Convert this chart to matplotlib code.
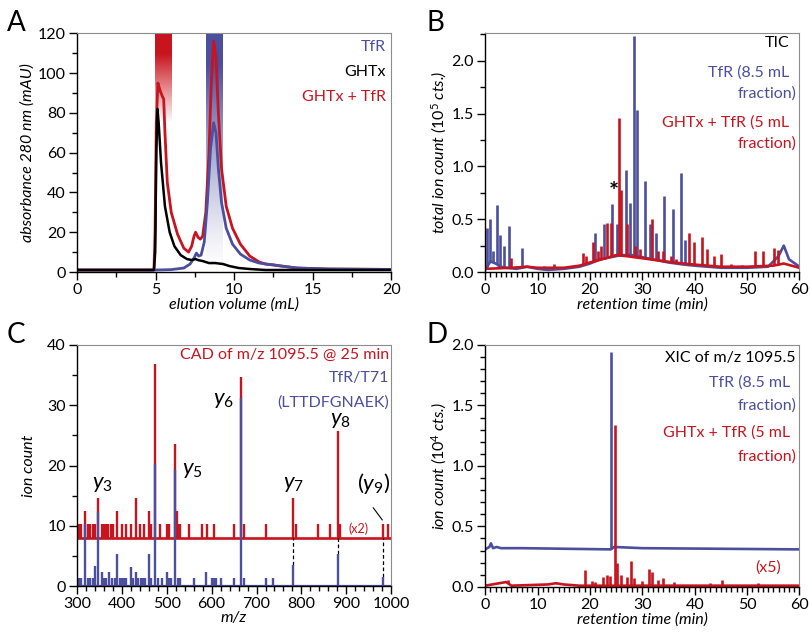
import numpy as np
import matplotlib
matplotlib.use('Agg')
from matplotlib import pyplot as plt
from matplotlib.ticker import MultipleLocator

plt.rcParams.update({'font.family': ['Lato', 'DejaVu Sans'],
                     'font.size': 11.5,
                     'mathtext.fontset': 'custom',
                     'mathtext.rm': 'Lato',
                     'mathtext.it': 'Lato:italic',
                     'axes.linewidth': 1.0})

BLUE = '#4b4f9e'
RED = '#c8141e'
GREY = '#8c8c8c'

# ---------------- panel A : size exclusion traces ----------------
tfr_x = [0, 5, 6, 6.8, 7.2, 7.45, 7.6, 7.75, 7.9, 8.1, 8.3, 8.5, 8.7, 8.85, 9.0, 9.2,
         9.5, 9.9, 10.4, 11, 11.6, 12.3, 13, 14, 16, 20]
tfr_y = [1, 1, 1.2, 2, 4, 7, 9.5, 8, 8.5, 15, 35, 62, 75, 70, 52, 35,
         22, 14, 9, 6, 4.5, 3.7, 3, 2, 1.5, 1.3]
mix_x = [0, 4.9, 4.97, 5.05, 5.15, 5.3, 5.45, 5.52, 5.6, 5.75, 6.0, 6.4, 6.8, 7.1, 7.3,
         7.45, 7.55, 7.7, 7.85, 8.0, 8.2, 8.4, 8.55, 8.7, 8.85, 9.0, 9.2, 9.5, 9.9,
         10.4, 11, 11.6, 12, 12.5, 13, 14, 16, 20]
mix_y = [1, 1, 20, 75, 95, 91, 88, 87, 70, 45, 30, 19, 12, 10, 13,
         18, 20, 17.5, 16.5, 18, 30, 60, 95, 116, 108, 80, 52, 33, 22,
         14, 8, 5, 4, 3.6, 3, 2, 1.5, 1.3]
ghtx_x = [0, 4.9, 4.98, 5.05, 5.12, 5.2, 5.35, 5.6, 5.9, 6.2, 6.6, 7.0, 7.3, 7.55, 7.7,
          8.0, 8.4, 8.8, 9.3, 9.7, 10.3, 11, 12, 20]
ghtx_y = [1, 1, 10, 60, 82, 75, 55, 33, 20, 13, 8.5, 6.5, 6, 6.5, 6,
          5.5, 4.5, 4.5, 4, 3, 2, 1.5, 1, 1]

# ---------------- panel B : total ion chromatograms ----------------
tic_blue_base_t = [0, 1, 2, 3, 4, 6, 8, 10, 12, 15, 18, 20, 22, 24, 26, 28, 30, 32, 35,
                   38, 40, 45, 50, 54, 56, 57, 58, 60]
tic_blue_base_y = [0.02, 0.1, 0.08, 0.05, 0.04, 0.03, 0.05, 0.03, 0.02, 0.03, 0.05, 0.08,
                   0.12, 0.14, 0.16, 0.16, 0.14, 0.12, 0.09, 0.07, 0.06, 0.04, 0.04, 0.05,
                   0.15, 0.25, 0.12, 0.05]
tic_blue_peak_t = [0.4, 0.9, 1.5, 2.2, 2.9, 3.5, 4.6, 7.0, 11.3, 21.0, 22.6, 24.2, 25.1,
                   26.9, 27.7, 28.4, 29.0, 30.5, 31.5, 32.6, 34.2, 35.9, 37.4, 38.2]
tic_blue_peak_h = [0.42, 0.5, 0.2, 0.63, 0.35, 0.25, 0.44, 0.23, 0.06, 0.37, 0.45, 0.64,
                   0.45, 0.97, 0.65, 2.23, 1.53, 0.86, 0.45, 0.37, 0.72, 0.6, 0.94, 0.3]
tic_red_base_t = [0, 5, 8, 10, 15, 18, 20, 23, 25, 27, 30, 33, 36, 40, 45, 50, 55, 57, 60]
tic_red_base_y = [0.03, 0.04, 0.05, 0.04, 0.04, 0.06, 0.09, 0.13, 0.16, 0.15, 0.13, 0.11,
                  0.09, 0.07, 0.05, 0.05, 0.06, 0.08, 0.04]
tic_red_peak_t = [2.5, 5.0, 8.0, 13.2, 18.6, 19.2, 20.5, 21.5, 22.2, 23.3, 24.0, 25.6, 26.0,
                  27.0, 28.6, 29.5, 31.9, 33.0, 34.0, 35.5, 36.5, 38.9, 39.8, 41.4, 42.3,
                  43.6, 45.0, 47.0, 49.0, 51.5, 53.1, 55.2, 55.9]
tic_red_peak_h = [0.06, 0.13, 0.05, 0.08, 0.18, 0.15, 0.28, 0.2, 0.25, 0.46, 0.46, 1.46,
                  0.78, 0.45, 0.25, 0.22, 0.5, 0.2, 0.2, 0.15, 0.12, 0.37, 0.28, 0.33,
                  0.22, 0.15, 0.17, 0.08, 0.07, 0.2, 0.2, 0.23, 0.21]

# ---------------- panel C : MS/MS spectra ----------------
ms_blue_mz = [305, 310, 317, 325, 330, 335, 340, 347, 355, 360, 365, 372, 378, 385, 390,
              395, 400, 405, 410, 420, 425, 432, 437, 442, 447, 452, 460, 466, 473, 480,
              490, 500, 505, 510, 518, 525, 530, 560, 588, 600, 605, 610, 620, 650, 666,
              672, 720, 737, 781, 882, 982]
ms_blue_int = [1.3, 1.3, 10.3, 1.3, 1.3, 1.3, 3.3, 12.3, 2.3, 1.3, 1.3, 2.3, 1.3, 1.3, 5.3,
               1.3, 1.3, 1.3, 1.3, 3.2, 1.3, 2.3, 1.3, 1.3, 1.3, 1.3, 5.3, 1.3, 20.2, 1.3,
               1.3, 2.3, 1.3, 1.3, 19.3, 1.3, 1.3, 1.3, 2.3, 1.3, 1.3, 1.3, 1.3, 1.3, 31.2,
               1.3, 1.3, 1.3, 3.5, 5.3, 1.5]
ms_red_mz = [305, 310, 317, 325, 330, 335, 340, 347, 355, 360, 365, 370, 375, 380, 390,
             400, 410, 420, 432, 440, 450, 460, 465, 473, 485, 500, 505, 518, 522, 525,
             530, 550, 578, 590, 605, 650, 666, 672, 720, 781, 787, 838, 863, 882, 886,
             982, 992]
ms_red_int = [10.3, 10.3, 12.5, 10.3, 10.3, 10.3, 10.3, 14.7, 10.3, 10.3, 10.3, 10.3, 10.3,
              10.3, 12.5, 10.3, 10.3, 10.3, 14.7, 10.3, 10.3, 12.5, 10.3, 36.8, 10.3, 10.3,
              10.3, 23.6, 12.5, 10.3, 10.3, 10.3, 10.3, 10.3, 10.3, 10.3, 34.7, 10.3, 10.3,
              14.7, 10.3, 10.3, 10.3, 25.8, 10.3, 10.3, 10.3]
ms_red_offset = 8
ion_labels = ['$y_3$', '$y_5$', '$y_6$', '$y_7$', '$y_8$', '($y_9$)']
ion_label_mz = [356, 556, 627, 783, 887, 961]
ion_label_y = [17, 19.3, 30.9, 17, 27.5, 17]
matched_mz = [781, 882, 982]
matched_blue = [3.5, 5.3, 1.5]

# ---------------- panel D : extracted ion chromatograms ----------------
xic_blue_base_t = [0, 0.8, 1.1, 1.5, 2.2, 3, 7, 24, 24.6, 30, 60]
xic_blue_base_y = [0.31, 0.33, 0.36, 0.32, 0.33, 0.32, 0.32, 0.31, 0.33, 0.32, 0.31]
xic_blue_peak_t = [24.0]
xic_blue_peak_h = [1.94]
xic_red_base_t = [0, 4, 5, 12, 13.5, 15, 18, 60]
xic_red_base_y = [0.01, 0.04, 0.01, 0.02, 0.03, 0.02, 0.01, 0.01]
xic_red_peak_t = [4.3, 19.0, 20.3, 21.0, 22.5, 23.2, 23.8, 24.7, 25.2, 26.0, 27.0, 27.8,
                  28.5, 30.0, 31.3, 31.8, 33.0, 34.0, 36.0, 43.0, 45.3, 52.0]
xic_red_peak_h = [0.06, 0.14, 0.05, 0.04, 0.08, 0.10, 0.09, 1.34, 0.2, 0.1, 0.08, 0.21,
                  0.07, 0.05, 0.15, 0.12, 0.06, 0.07, 0.04, 0.03, 0.06, 0.03]


def style_axes(ax):
    ax.spines['top'].set_color(GREY)
    ax.spines['right'].set_color(GREY)
    ax.spines['top'].set_linewidth(0.8)
    ax.spines['right'].set_linewidth(0.8)
    ax.tick_params(which='major', direction='out', length=6, width=1, labelsize=11.5,
                   top=False, right=False, pad=2)
    ax.tick_params(which='minor', direction='out', length=3.5, width=1, top=False, right=False)


def spikes(ax, base_t, base_y, peak_t, peak_h, color, lw):
    ax.plot(base_t, base_y, color=color, lw=lw, solid_joinstyle='round')
    foot = np.interp(peak_t, base_t, base_y)
    ax.vlines(peak_t, foot, peak_h, color=color, lw=lw)


fig = plt.figure(figsize=(8.1, 6.4), dpi=100)

# ---- A ----
axA = fig.add_axes([0.095, 0.575, 0.388, 0.373])
red_band = np.zeros((100, 1, 4))
red_band[..., :3] = matplotlib.colors.to_rgb(RED)
red_band[:, 0, 3] = np.clip(np.linspace(1.3, 0, 100), 0, 1)
axA.imshow(red_band, extent=[4.95, 6.0, 75, 120], aspect='auto', origin='upper', zorder=0)
blue_band = np.zeros((100, 1, 4))
blue_band[..., :3] = matplotlib.colors.to_rgb(BLUE)
blue_band[:, 0, 3] = np.clip(np.linspace(1.15, 0, 100), 0, 1) ** 1.3
axA.imshow(blue_band, extent=[8.2, 9.25, 0, 120], aspect='auto', origin='upper', zorder=0)
axA.plot(mix_x, mix_y, color=RED, lw=2.0)
axA.plot(tfr_x, tfr_y, color=BLUE, lw=2.0)
axA.plot(ghtx_x, ghtx_y, color='black', lw=1.8)
axA.set_xlim(0, 20)
axA.set_ylim(0, 120)
axA.xaxis.set_major_locator(MultipleLocator(5))
axA.xaxis.set_minor_locator(MultipleLocator(2.5))
axA.yaxis.set_major_locator(MultipleLocator(20))
axA.yaxis.set_minor_locator(MultipleLocator(10))
axA.set_xlabel('elution volume (mL)', style='italic', fontsize=11.5, labelpad=0)
axA.set_ylabel('absorbance 280 nm (mAU)', style='italic', fontsize=11.5, labelpad=2)
style_axes(axA)
axA.text(0.984, 0.941, 'TfR', color=BLUE, ha='right', va='center', transform=axA.transAxes)
axA.text(0.984, 0.837, 'GHTx', color='black', ha='right', va='center', transform=axA.transAxes)
axA.text(0.984, 0.732, 'GHTx + TfR', color=RED, ha='right', va='center', transform=axA.transAxes)

# ---- B ----
axB = fig.add_axes([0.599, 0.575, 0.388, 0.373])
spikes(axB, tic_blue_base_t, tic_blue_base_y, tic_blue_peak_t, tic_blue_peak_h, BLUE, 1.9)
spikes(axB, tic_red_base_t, tic_red_base_y, tic_red_peak_t, tic_red_peak_h, RED, 1.9)
axB.text(24.5, 0.64, '*', fontsize=17, fontweight='bold', ha='center', va='bottom')
axB.set_xlim(0, 60)
axB.set_ylim(0, 2.26)
axB.xaxis.set_major_locator(MultipleLocator(10))
axB.xaxis.set_minor_locator(MultipleLocator(1))
axB.yaxis.set_major_locator(MultipleLocator(0.5))
axB.yaxis.set_minor_locator(MultipleLocator(0.25))
axB.yaxis.set_major_formatter(matplotlib.ticker.FormatStrFormatter('%.1f'))
axB.set_xlabel('retention time (min)', style='italic', fontsize=11.5, labelpad=0)
axB.set_ylabel(r'total ion count ($\mathit{10^5}$ cts.)', style='italic', fontsize=11.5, labelpad=2)
style_axes(axB)
axB.text(0.968, 0.958, 'TIC', color='black', ha='right', va='center', transform=axB.transAxes)
axB.text(0.968, 0.837, 'TfR (8.5 mL', color=BLUE, ha='right', va='center', transform=axB.transAxes)
axB.text(0.99, 0.749, 'fraction)', color=BLUE, ha='right', va='center', transform=axB.transAxes)
axB.text(0.968, 0.628, 'GHTx + TfR (5 mL', color=RED, ha='right', va='center', transform=axB.transAxes)
axB.text(0.99, 0.54, 'fraction)', color=RED, ha='right', va='center', transform=axB.transAxes)

# ---- C ----
axC = fig.add_axes([0.095, 0.084, 0.388, 0.377])
axC.vlines(ms_red_mz, ms_red_offset, ms_red_int, color=RED, lw=1.7)
axC.axhline(ms_red_offset, color=RED, lw=1.9)
axC.vlines(matched_mz, matched_blue, ms_red_offset, color='black', lw=0.9, linestyles=(0, (3, 2)))
axC.vlines(ms_blue_mz, 0, ms_blue_int, color=BLUE, lw=1.7)
axC.axhline(0.1, color=BLUE, lw=1.6)
for lab, mz, yy in zip(ion_labels, ion_label_mz, ion_label_y):
    axC.text(mz, yy, lab, fontsize=16, ha='center', va='center')
axC.plot([960, 980], [13.0, 11.0], color='black', lw=0.8)
axC.text(928, 9.6, '(x2)', color=RED, fontsize=9, ha='center', va='center')
axC.set_xlim(300, 1000)
axC.set_ylim(0, 40)
axC.xaxis.set_major_locator(MultipleLocator(100))
axC.xaxis.set_minor_locator(MultipleLocator(20))
axC.yaxis.set_major_locator(MultipleLocator(10))
axC.yaxis.set_minor_locator(MultipleLocator(5))
axC.set_xlabel('m/z', style='italic', fontsize=11.5, labelpad=0)
axC.set_ylabel('ion count', style='italic', fontsize=11.5, labelpad=8)
style_axes(axC)
axC.text(0.994, 0.958, 'CAD of m/z 1095.5 @ 25 min', color=RED, ha='right', va='center',
         transform=axC.transAxes)
axC.text(0.994, 0.863, 'TfR/T71', color=BLUE, ha='right', va='center', transform=axC.transAxes)
axC.text(0.994, 0.763, '(LTTDFGNAEK)', color=BLUE, ha='right', va='center', transform=axC.transAxes)

# ---- D ----
axD = fig.add_axes([0.599, 0.083, 0.388, 0.378])
spikes(axD, xic_blue_base_t, xic_blue_base_y, xic_blue_peak_t, xic_blue_peak_h, BLUE, 1.9)
spikes(axD, xic_red_base_t, xic_red_base_y, xic_red_peak_t, xic_red_peak_h, RED, 1.9)
axD.text(54, 0.16, '(x5)', color=RED, ha='center', va='center')
axD.set_xlim(0, 60)
axD.set_ylim(0, 2.0)
axD.xaxis.set_major_locator(MultipleLocator(10))
axD.xaxis.set_minor_locator(MultipleLocator(1))
axD.yaxis.set_major_locator(MultipleLocator(0.5))
axD.yaxis.set_minor_locator(MultipleLocator(0.1))
axD.yaxis.set_major_formatter(matplotlib.ticker.FormatStrFormatter('%.1f'))
axD.set_xlabel('retention time (min)', style='italic', fontsize=11.5, labelpad=0)
axD.set_ylabel(r'ion count ($\mathit{10^4}$ cts.)', style='italic', fontsize=11.5, labelpad=2)
style_axes(axD)
axD.text(0.987, 0.946, 'XIC of m/z 1095.5', color='black', ha='right', va='center',
         transform=axD.transAxes)
axD.text(0.971, 0.843, 'TfR (8.5 mL', color=BLUE, ha='right', va='center', transform=axD.transAxes)
axD.text(0.99, 0.748, 'fraction)', color=BLUE, ha='right', va='center', transform=axD.transAxes)
axD.text(0.971, 0.636, 'GHTx + TfR (5 mL', color=RED, ha='right', va='center', transform=axD.transAxes)
axD.text(0.99, 0.537, 'fraction)', color=RED, ha='right', va='center', transform=axD.transAxes)

# panel letters
fig.text(0.008, 0.985, 'A', fontsize=20, va='top')
fig.text(0.527, 0.985, 'B', fontsize=20, va='top')
fig.text(0.008, 0.497, 'C', fontsize=20, va='top')
fig.text(0.527, 0.497, 'D', fontsize=20, va='top')

fig.savefig('out.png', dpi=100)
